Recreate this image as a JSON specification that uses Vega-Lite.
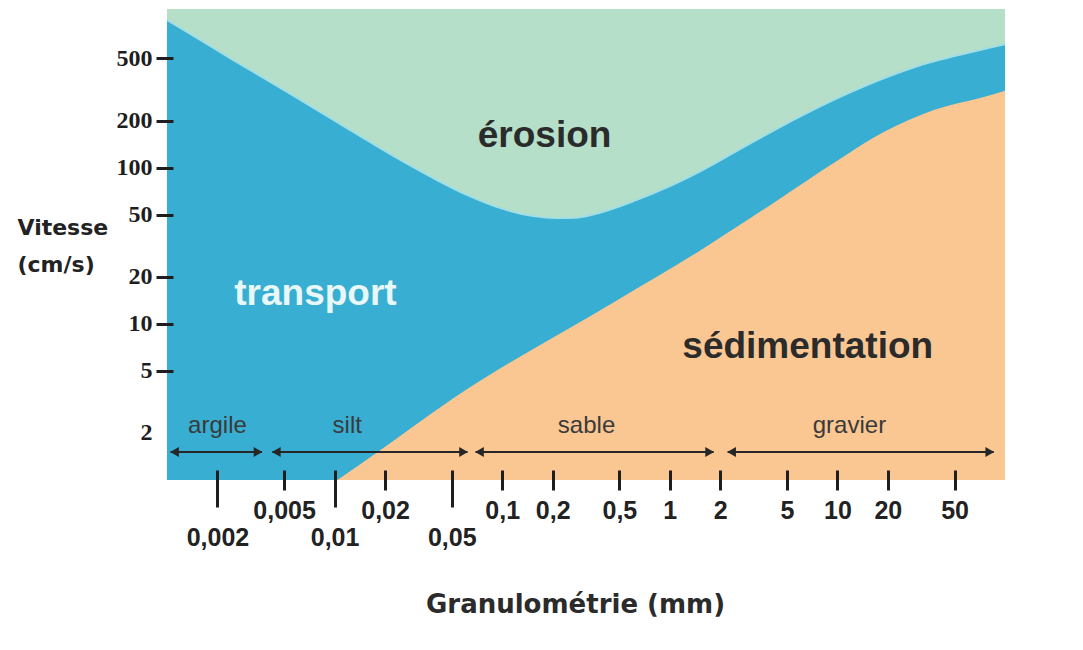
{
  "$schema": "https://vega.github.io/schema/vega-lite/v6.json",
  "width": 838,
  "height": 471,
  "autosize": {"type": "none"},
  "padding": {"left": 167, "top": 9, "right": 78, "bottom": 170},
  "background": "white",
  "view": {"fill": "#b5dfc9", "stroke": null},
  "datasets": {
    "upper": [
      {"d": 0.001, "v": 881}, {"d": 0.00158, "v": 656}, {"d": 0.00249, "v": 488}, {"d": 0.00397, "v": 363},
      {"d": 0.00625, "v": 271}, {"d": 0.0124, "v": 174}, {"d": 0.0247, "v": 112}, {"d": 0.0389, "v": 85.6},
      {"d": 0.0621, "v": 66.6}, {"d": 0.0977, "v": 55.0}, {"d": 0.1538, "v": 48.9}, {"d": 0.2081, "v": 47.5},
      {"d": 0.2744, "v": 47.8}, {"d": 0.3862, "v": 51.6}, {"d": 0.608, "v": 61.0}, {"d": 0.970, "v": 75.0},
      {"d": 1.527, "v": 95.0}, {"d": 3.037, "v": 143.5}, {"d": 6.04, "v": 213.8}, {"d": 12.0, "v": 304.6},
      {"d": 30.2, "v": 447}, {"d": 74.7, "v": 574}, {"d": 100, "v": 618}
    ],
    "lower": [
      {"d": 0.01039, "v": 1}, {"d": 0.0180, "v": 1.505}, {"d": 0.0491, "v": 3.24}, {"d": 0.488, "v": 14.2},
      {"d": 1.527, "v": 29.6}, {"d": 4.40, "v": 61.9}, {"d": 9.50, "v": 106.9}, {"d": 18.9, "v": 168.8},
      {"d": 37.6, "v": 233.6}, {"d": 74.7, "v": 282.9}, {"d": 100, "v": 310}
    ],
    "classes": [
      {"name": "argile", "mid": 0.002, "from": 0.00105, "to": 0.00369},
      {"name": "silt", "mid": 0.0119, "from": 0.00425, "to": 0.0621},
      {"name": "sable", "mid": 0.3186, "from": 0.0693, "to": 1.826},
      {"name": "gravier", "mid": 11.8, "from": 2.213, "to": 85.7}
    ]
  },
  "layer": [
    {
      "data": {"name": "upper"},
      "mark": {"type": "area", "color": "#38afd2", "interpolate": "monotone"},
      "encoding": {
        "x": {
          "field": "d", "type": "quantitative",
          "scale": {"type": "log", "domain": [0.001, 100], "nice": false},
          "axis": {
            "values": [0.002, 0.005, 0.01, 0.02, 0.05, 0.1, 0.2, 0.5, 1, 2, 5, 10, 20, 50],
            "labelExpr": "replace(toString(datum.value), '.', ',')",
            "domain": false, "grid": false, "offset": -10, "zindex": 1,
            "tickWidth": 3, "tickColor": "#1e1e1e",
            "tickSize": {"condition": {"test": "indexof([0.002, 0.01, 0.05], datum.value) >= 0", "value": 37}, "value": 20},
            "labelPadding": {"condition": {"test": "indexof([0.002, 0.01, 0.05], datum.value) >= 0", "value": 18}, "value": 8},
            "labelFont": "Liberation Sans", "labelFontSize": 25, "labelFontWeight": "bold", "labelColor": "#222222",
            "labelFlush": false, "labelOverlap": false, "labelBaseline": "top",
            "title": "Granulométrie (mm)", "titleFont": "DejaVu Sans", "titleFontSize": 26, "titleFontWeight": "bold",
            "titleColor": "#2b2b2b", "titleBaseline": "alphabetic", "titleX": 408, "titleY": 142
          }
        },
        "y": {
          "field": "v", "type": "quantitative",
          "scale": {"type": "log", "domain": [1, 1036], "nice": false},
          "axis": {
            "values": [2, 5, 10, 20, 50, 100, 200, 500],
            "domain": false, "grid": false, "offset": -6, "zindex": 1,
            "tickSize": 17, "tickWidth": 3,
            "tickColor": {"condition": {"test": "datum.value == 2", "value": "transparent"}, "value": "#1e1e1e"},
            "labelPadding": 4, "labelFont": "Liberation Serif", "labelFontSize": 24, "labelFontWeight": "bold",
            "labelColor": "#1e1e1e", "labelFlush": false, "labelOverlap": false,
            "title": ["Vitesse", "(cm/s)"], "titleAngle": 0, "titleAlign": "left", "titleBaseline": "alphabetic",
            "titleX": -156, "titleY": 225, "titleFont": "DejaVu Sans", "titleFontSize": 22, "titleFontWeight": "bold",
            "titleColor": "#222222", "titleLineHeight": 37
          }
        },
        "y2": {"datum": 1}
      }
    },
    {
      "data": {"name": "upper"},
      "mark": {"type": "line", "color": "#a3dee4", "strokeWidth": 2, "interpolate": "monotone"},
      "encoding": {
        "x": {"field": "d", "type": "quantitative"},
        "y": {"field": "v", "type": "quantitative"}
      }
    },
    {
      "data": {"name": "lower"},
      "mark": {"type": "area", "color": "#fac793", "interpolate": "monotone"},
      "encoding": {
        "x": {"field": "d", "type": "quantitative"},
        "y": {"field": "v", "type": "quantitative"},
        "y2": {"datum": 1}
      }
    },
    {
      "data": {"values": [
        {"t": "érosion", "d": 0.179, "v": 135},
        {"t": "sédimentation", "d": 6.65, "v": 6.02}
      ]},
      "mark": {"type": "text", "font": "Liberation Sans", "fontSize": 37, "fontWeight": "bold", "baseline": "alphabetic", "align": "center", "color": "#2b2b2b"},
      "encoding": {
        "x": {"field": "d", "type": "quantitative"},
        "y": {"field": "v", "type": "quantitative"},
        "text": {"field": "t"}
      }
    },
    {
      "data": {"values": [{"t": "transport", "d": 0.00769, "v": 13.2}]},
      "mark": {"type": "text", "font": "Liberation Sans", "fontSize": 37, "fontWeight": "bold", "baseline": "alphabetic", "align": "center", "color": "#e8f7f7"},
      "encoding": {
        "x": {"field": "d", "type": "quantitative"},
        "y": {"field": "v", "type": "quantitative"},
        "text": {"field": "t"}
      }
    },
    {
      "data": {"name": "classes"},
      "mark": {"type": "text", "font": "Liberation Sans", "fontSize": 24, "baseline": "alphabetic", "align": "center", "color": "#3a3a3a"},
      "encoding": {
        "x": {"field": "mid", "type": "quantitative"},
        "y": {"datum": 1.99},
        "text": {"field": "name"}
      }
    },
    {
      "data": {"name": "classes"},
      "mark": {"type": "rule", "color": "#262626", "strokeWidth": 2},
      "encoding": {
        "x": {"field": "from", "type": "quantitative"},
        "x2": {"field": "to"},
        "y": {"datum": 1.512}
      }
    },
    {
      "data": {"name": "classes"},
      "mark": {"type": "point", "shape": "triangle-left", "filled": true, "size": 100, "color": "#262626", "opacity": 1, "xOffset": 4},
      "encoding": {
        "x": {"field": "from", "type": "quantitative"},
        "y": {"datum": 1.512}
      }
    },
    {
      "data": {"name": "classes"},
      "mark": {"type": "point", "shape": "triangle-right", "filled": true, "size": 100, "color": "#262626", "opacity": 1, "xOffset": -4},
      "encoding": {
        "x": {"field": "to", "type": "quantitative"},
        "y": {"datum": 1.512}
      }
    }
  ]
}
